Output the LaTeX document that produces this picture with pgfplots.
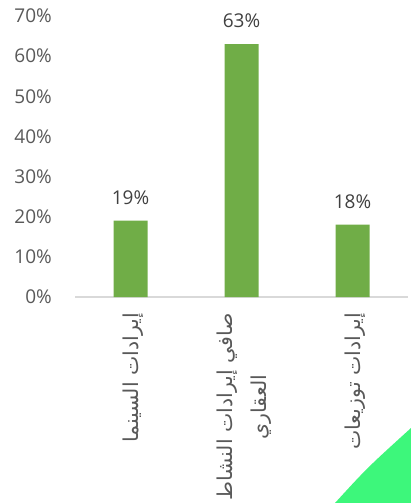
\documentclass[border=0pt]{standalone}
\usepackage{fontspec}
\setmainfont{Open Sans}
\newfontfamily\arabicfont[Script=Arabic]{DejaVu Sans}
\TeXXeTstate=1
\usepackage{pgfplots}
\pgfplotsset{compat=1.18}

\definecolor{bargreen}{HTML}{70AD47}
\definecolor{decogreen}{HTML}{3DF77B}
\definecolor{ticktext}{HTML}{595959}
\definecolor{labeltext}{HTML}{404040}
\definecolor{axisgray}{HTML}{D9D9D9}

\begin{document}
\begin{tikzpicture}
  \path[use as bounding box] (0,0) rectangle (411pt,503pt);
  \clip (0,0) rectangle (411pt,503pt);
  % corner decoration of the slide
  \fill[decogreen] (335pt,0pt) .. controls (367pt,35pt) .. (411pt,75pt)
    -- (411pt,0pt) -- cycle;
  \begin{axis}[
    at={(75pt,206pt)}, anchor=south west,
    scale only axis,
    width=333pt, height=281pt,
    xmin=-0.5, xmax=2.5,
    ymin=0, ymax=70,
    ybar, bar width=34pt,
    axis x line*=bottom,
    axis y line*=left,
    x axis line style={draw=axisgray, line width=1.4pt},
    y axis line style={draw=none},
    major tick length=0pt,
    xtick={0,1,2},
    xticklabels={
      {\beginR إيرادات السينما\endR},
      {\beginR صافي إيرادات النشاط\endR\\[9pt]\beginR العقاري\endR},
      {\beginR إيرادات توزيعات\endR}},
    xticklabel style={yshift=-16pt, xshift=3pt, rotate=90, anchor=east,
      inner sep=0pt, align=center, text=ticktext,
      font=\arabicfont\fontsize{20.5}{25}\selectfont},
    ytick={0,10,20,30,40,50,60,70},
    yticklabels={0\%,10\%,20\%,30\%,40\%,50\%,60\%,70\%},
    yticklabel style={inner sep=0pt, xshift=-23pt, text=ticktext,
      font=\fontsize{19}{22}\selectfont},
    nodes near coords={\pgfmathprintnumber[assume math mode=true]{\pgfplotspointmeta}\%},
    every node near coord/.append style={anchor=south, inner sep=0pt,
      yshift=16pt, text=labeltext, font=\fontsize{19}{22}\selectfont},
    clip=false,
  ]
    \addplot[fill=bargreen, draw=none] coordinates {(0,19) (1,63) (2,18)};
  \end{axis}
\end{tikzpicture}
\end{document}
